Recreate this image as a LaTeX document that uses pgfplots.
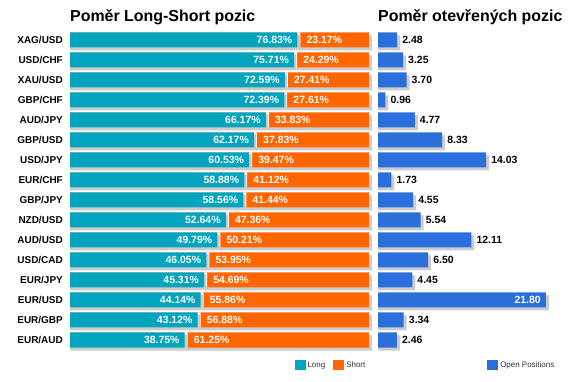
\documentclass[border=0pt]{standalone}
\usepackage{pgfplots}
\pgfplotsset{compat=1.18}
\usepackage{pgfplotstable}
\usepackage{fontspec}
\setmainfont{Liberation Sans}
\definecolor{cLong}{HTML}{02A4BE}
\definecolor{cShort}{HTML}{FF6600}
\definecolor{cOpen}{HTML}{2A6FDB}
\definecolor{cShadow}{HTML}{CCCCCC}
\definecolor{cLeg}{HTML}{333333}
\tikzset{lbl/.style={font=\bfseries\fontsize{10.5}{12}\selectfont, inner sep=0pt}}
\pgfplotstableread{
y long short open
15 76.83 23.17 2.48
14 75.71 24.29 3.25
13 72.59 27.41 3.70
12 72.39 27.61 0.96
11 66.17 33.83 4.77
10 62.17 37.83 8.33
9 60.53 39.47 14.03
8 58.88 41.12 1.73
7 58.56 41.44 4.55
6 52.64 47.36 5.54
5 49.79 50.21 12.11
4 46.05 53.95 6.50
3 45.31 54.69 4.45
2 44.14 55.86 21.80
1 43.12 56.88 3.34
0 38.75 61.25 2.46
}\datatable
\pgfplotsset{
  common/.style={
    anchor=south west, scale only axis, height=320bp,
    ymin=-0.5, ymax=15.5, clip=false,
    xbar, bar width=15bp, bar shift=0pt,
    axis line style={draw=none}, major tick length=0pt,
    xtick=\empty,
    /pgf/number format/assume math mode=true,
    title style={at={(0,1)}, anchor=base west, yshift=3bp, inner sep=0pt,
      font=\bfseries\fontsize{16}{19}\selectfont},
    legend style={draw=none, fill=none, inner sep=0pt,
      font=\fontsize{8}{10}\selectfont, text=cLeg,
      /tikz/every even column/.append style={column sep=6bp}},
    legend image code/.code={\fill[##1, draw=none] (0bp,-5bp) rectangle (11bp,5bp);},
    legend columns=-1,
  },
}
\begin{document}
\begin{tikzpicture}
\path[use as bounding box] (0,0) rectangle (576bp,382bp);
\begin{axis}[common,
  at={(70bp,32bp)}, width=296bp,
  xmin=0, xmax=100,
  ytick={0,...,15},
  yticklabels={EUR/AUD,EUR/GBP,EUR/USD,EUR/JPY,USD/CAD,AUD/USD,NZD/USD,GBP/JPY,EUR/CHF,USD/JPY,GBP/USD,AUD/JPY,GBP/CHF,XAU/USD,USD/CHF,XAG/USD},
  yticklabel style={font=\bfseries\fontsize{10}{12}\selectfont, inner sep=0pt, anchor=east, xshift=-7bp},
  title={Poměr Long-Short pozic},
  legend style={at={(0.758,-0.047)}, anchor=west},
]
\addplot[forget plot, fill=cShadow, draw=none, bar shift=-3bp] table[x expr=102, y=y]{\datatable};
\addplot[forget plot, fill=cShort, draw=none] table[x expr=101, y=y]{\datatable};
\addplot[forget plot, fill=white, draw=none] table[x expr=\thisrow{long}+1.0, y=y]{\datatable};
\addplot[forget plot, fill=cShadow, draw=none, bar width=13bp, bar shift=-1bp] table[x expr=\thisrow{long}+0.8, y=y]{\datatable};
\addplot[forget plot, fill=cLong, draw=none,
  nodes near coords={\pgfmathprintnumber[fixed,fixed zerofill,precision=2]{\pgfplotspointmeta}\%},
  point meta=explicit,
  every node near coord/.append style={lbl, anchor=east, xshift=-5bp, text=white}]
  table[x=long, y=y, meta=long]{\datatable};
\addplot[forget plot, fill=none, draw=none,
  nodes near coords={\pgfmathprintnumber[fixed,fixed zerofill,precision=2]{\pgfplotspointmeta}\%},
  point meta=explicit,
  every node near coord/.append style={lbl, anchor=west, xshift=9bp, text=white}]
  table[x=long, y=y, meta=short]{\datatable};
\addlegendimage{fill=cLong}
\addlegendentry{Long}
\addlegendimage{fill=cShort}
\addlegendentry{Short}
\end{axis}
\begin{axis}[common,
  at={(378bp,32bp)}, width=192bp,
  xmin=0, xmax=24.92,
  ytick=\empty,
  title={Poměr otevřených pozic},
  legend style={at={(0.568,-0.047)}, anchor=west},
]
\addplot[forget plot, fill=cShadow, draw=none, bar shift=-3bp] table[x expr=\thisrow{open}+0.39, y=y]{\datatable};
\addplot[forget plot, fill=cOpen, draw=none] table[x=open, y=y]{\datatable};
\addplot[forget plot, fill=none, draw=none, restrict x to domain=0:20,
  nodes near coords={\pgfmathprintnumber[fixed,fixed zerofill,precision=2]{\pgfplotspointmeta}},
  point meta=explicit,
  every node near coord/.append style={lbl, anchor=west, xshift=5bp, text=black}]
  table[x=open, y=y, meta=open]{\datatable};
\addplot[forget plot, fill=none, draw=none, restrict x to domain=20:30,
  nodes near coords={\pgfmathprintnumber[fixed,fixed zerofill,precision=2]{\pgfplotspointmeta}},
  point meta=explicit,
  every node near coord/.append style={lbl, anchor=east, xshift=-5bp, text=white}]
  table[x=open, y=y, meta=open]{\datatable};
\addlegendimage{fill=cOpen}
\addlegendentry{Open Positions}
\end{axis}
\end{tikzpicture}
\end{document}
